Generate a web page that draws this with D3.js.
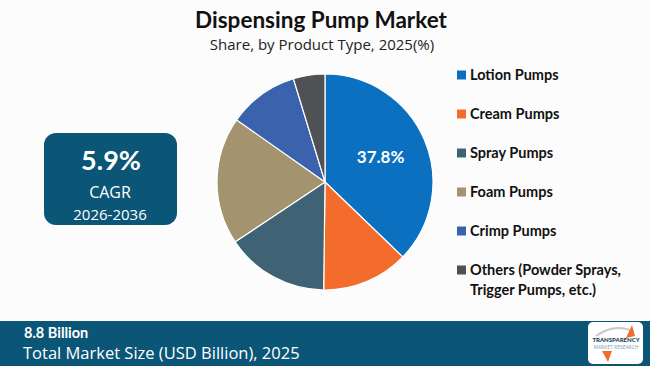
<!DOCTYPE html>
<html><head><meta charset="utf-8">
<script src="https://cdn.jsdelivr.net/npm/d3@7"></script>
<style>html,body{margin:0;padding:0;background:#fcfcfc;}svg{display:block;}</style>
</head><body><svg id="c" width="650" height="366"></svg>
<script>
const categories = ["Lotion Pumps","Cream Pumps","Spray Pumps","Foam Pumps","Crimp Pumps","Others (Powder Sprays, Trigger Pumps, etc.)"];
const legendLines = [["Lotion Pumps"],["Cream Pumps"],["Spray Pumps"],["Foam Pumps"],["Crimp Pumps"],["Others (Powder Sprays,","Trigger Pumps, etc.)"]];
const shares = [37.8, 13.2, 15.7, 19.4, 10.7, 4.8];
const colors = ["#0b70c0","#f36c2c","#3f6275","#a3936f","#3a62ad","#4f5154"];
const labelledIndex = 0;
const title = "Dispensing Pump Market";
const subtitle = "Share, by Product Type, 2025(%)";
const cagr = "5.9%", cagrLabel = "CAGR", cagrPeriod = "2026-2036";
const marketSize = "8.8 Billion", marketLabel = "Total Market Size (USD Billion), 2025";

const svg = d3.select("#c");
const W = 650, H = 366;
const dark = "#0b5577";
const bold = "Lato, 'Open Sans', sans-serif";
const light = "'Open Sans', Lato, sans-serif";

svg.append("rect").attr("width",W).attr("height",H).attr("fill","#fcfcfc");

svg.append("text").attr("x",321).attr("y",28).attr("text-anchor","middle")
  .attr("font-family",bold).attr("font-weight",700).attr("font-size",22.5).attr("fill","#111").text(title);
svg.append("text").attr("x",322).attr("y",50).attr("text-anchor","middle")
  .attr("font-family",light).attr("font-size",15).attr("fill","#222").text(subtitle);

// pie
const cx = 325, cy = 182, r = 108;
const pie = d3.pie().sort(null).value(d=>d)(shares);
const arc = d3.arc().innerRadius(0).outerRadius(r);
const g = svg.append("g").attr("transform",`translate(${cx},${cy})`);
g.selectAll("path").data(pie).join("path")
  .attr("d",arc).attr("fill",(d,i)=>colors[i]).attr("stroke","#ffffff").attr("stroke-width",1.2);
const lab = d3.arc().innerRadius(r*0.6).outerRadius(r*0.6);
const p0 = pie[labelledIndex];
const c0 = lab.centroid(p0);
g.append("text").attr("x",c0[0]-4).attr("y",c0[1]).attr("text-anchor","middle").attr("dominant-baseline","central")
  .attr("font-family",bold).attr("font-weight",700).attr("font-size",17).attr("fill","#fff")
  .text(shares[labelledIndex].toFixed(1)+"%");

// CAGR box
svg.append("rect").attr("x",44).attr("y",133).attr("width",133).attr("height",92).attr("rx",12).attr("fill",dark);
svg.append("text").attr("x",111).attr("y",170).attr("text-anchor","middle").attr("font-family",bold)
  .attr("font-weight",700).attr("font-size",27).attr("fill","#fff").text(cagr);
svg.append("text").attr("x",110).attr("y",198).attr("text-anchor","middle").attr("font-family",light)
  .attr("font-size",16).attr("fill","#fff").text(cagrLabel);
svg.append("text").attr("x",110).attr("y",220).attr("text-anchor","middle").attr("font-family",light)
  .attr("font-size",15).attr("fill","#fff").text(cagrPeriod);

// legend
const ly = d3.scalePoint().domain(d3.range(categories.length)).range([75,270]);
const lg = svg.append("g");
categories.forEach((c,i)=>{
  const y = ly(i);
  lg.append("rect").attr("x",457).attr("y",y-4.5).attr("width",9).attr("height",9).attr("fill",colors[i]);
  legendLines[i].forEach((t,j)=>{
    lg.append("text").attr("x",470).attr("y",y+5+j*20).attr("font-family",bold).attr("font-weight",700)
      .attr("font-size",14.5).attr("fill","#111").text(t);
  });
});

// bottom band
svg.append("rect").attr("x",0).attr("y",321).attr("width",W).attr("height",45).attr("fill",dark);
svg.append("text").attr("x",24).attr("y",338).attr("font-family",bold).attr("font-weight",700)
  .attr("font-size",14.5).attr("fill","#fff").text(marketSize);
svg.append("text").attr("x",23).attr("y",359).attr("font-family",light)
  .attr("font-size",16.5).attr("fill","#fff").text(marketLabel);

// logo
const lgx = 588, lgy = 322;
svg.append("rect").attr("x",lgx).attr("y",lgy).attr("width",55).attr("height",42).attr("rx",5).attr("fill","#fff");
svg.append("path").attr("d",`M${lgx+8},${lgy+14} Q${lgx+25},${lgy+2} ${lgx+42},${lgy+8}`).attr("fill","none").attr("stroke","#c8c8c8").attr("stroke-width",2);
svg.append("path").attr("d",`M${lgx+38},${lgy+16} L${lgx+44},${lgy+3} L${lgx+47},${lgy+14} Z`).attr("fill","#f36c2c");
svg.append("path").attr("d",`M${lgx+14},${lgy+29} L${lgx+20},${lgy+40} L${lgx+24},${lgy+29} Z`).attr("fill","#f36c2c");
svg.append("text").attr("x",lgx+28).attr("y",lgy+20).attr("text-anchor","middle").attr("font-family",bold)
  .attr("font-weight",900).attr("font-size",6).attr("fill","#1a3d5c").text("TRANSPARENCY");
svg.append("text").attr("x",lgx+28).attr("y",lgy+27).attr("text-anchor","middle").attr("font-family",light)
  .attr("font-size",5).attr("fill","#7aa0b8").text("MARKET RESEARCH");
</script></body></html>
